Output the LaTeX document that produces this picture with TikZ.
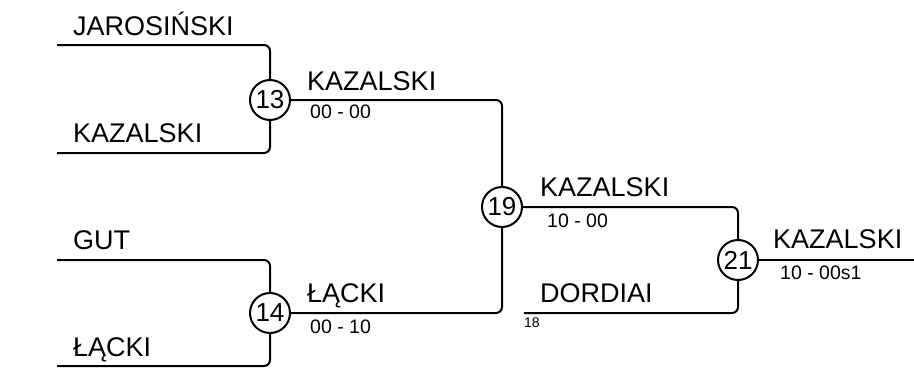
\documentclass[tikz,border=0pt]{standalone}
\usepackage{fontspec}
\setmainfont{Liberation Sans}
\usetikzlibrary{positioning}

\tikzset{
  match/.style={circle, draw, line width=2pt, fill=white, minimum size=40pt, inner sep=0pt, font=\fontsize{26}{26}\selectfont},
  player/.style={anchor=base west, inner sep=0pt, font=\fontsize{27}{27}\selectfont},
  score/.style={anchor=base west, inner sep=0pt, font=\fontsize{19.5}{19.5}\selectfont},
  seed/.style={anchor=base west, inner sep=0pt, font=\fontsize{14}{14}\selectfont},
  bracket/.style={line width=2pt, rounded corners=6pt}
}

\begin{document}
\begin{tikzpicture}[x=1pt, y=-1pt]
      \useasboundingbox (0,0) rectangle (914,372);
      % Nodes
      % matches
      \node[match] (m13) at (270,100) {13};
      \node[match] (m14) at (270,313) {14};
      \node[match] (m19) at (502,207) {19};
      \node[match] (m21) at (738,260) {21};
      % line ends
      \coordinate (jaro) at (57,45);
      \coordinate (kaza) at (57,153);
      \coordinate (gut)  at (57,260);
      \coordinate (lack) at (57,366);
      \coordinate (dord) at (524,313);
      \coordinate (fin)  at (914,260);
      % names and scores
      \node[player] (njaro) at (73,35)  {JAROSIŃSKI};
      \node[player] (nkaza) at (73,142) {KAZALSKI};
      \node[player] (ngut)  at (73,249) {GUT};
      \node[player] (nlack) at (73,356) {ŁĄCKI};
      \node[player] (w13) at (307,90)  {KAZALSKI};
      \node[score]  (s13) at (310,118) {00 - 00};
      \node[player] (w14) at (307,302) {ŁĄCKI};
      \node[score]  (s14) at (310,333) {00 - 10};
      \node[player] (w19) at (540,196) {KAZALSKI};
      \node[score]  (s19) at (547,227) {10 - 00};
      \node[player] (ndord) at (540,302) {DORDIAI};
      \node[seed]   (n18) at (524,327) {18};
      \node[player] (w21) at (773,248) {KAZALSKI};
      \node[score]  (s21) at (780,279) {10 - 00s1};
      % edges
      \draw[bracket] (jaro) -| (m13);
      \draw[bracket] (kaza) -| (m13);
      \draw[bracket] (gut) -| (m14);
      \draw[bracket] (lack) -| (m14);
      \draw[bracket] (m13) -| (m19);
      \draw[bracket] (m14) -| (m19);
      \draw[bracket] (m19) -| (m21);
      \draw[bracket] (dord) -| (m21);
      \draw[bracket] (m21) -- (fin);
\end{tikzpicture}
\end{document}
